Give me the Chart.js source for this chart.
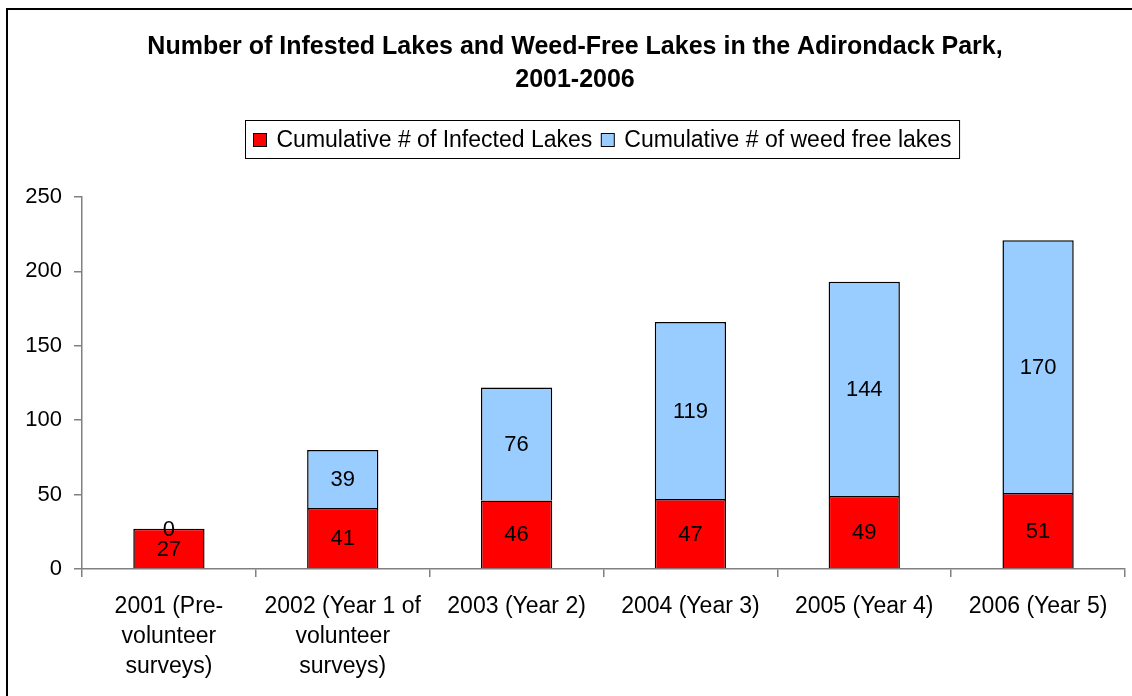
<!DOCTYPE html>
<html>
<head>
<meta charset="utf-8">
<script src="https://cdn.jsdelivr.net/npm/chart.js@4.4.1/dist/chart.umd.min.js"></script>
<style>
  html, body { margin: 0; padding: 0; background: #fff; }
  #wrap { width: 1132px; height: 696px; }
</style>
</head>
<body>
<div id="wrap"><canvas id="lakesChart" width="1132" height="696"></canvas></div>
<script>
// data
const categories = [
    ['2001 (Pre-', 'volunteer', 'surveys)'],
    ['2002 (Year 1 of', 'volunteer', 'surveys)'],
    '2003 (Year 2)',
    '2004 (Year 3)',
    '2005 (Year 4)',
    '2006 (Year 5)'
];
const infectedLakes = [27, 41, 46, 47, 49, 51];
const weedFreeLakes = [0, 39, 76, 119, 144, 170];
const yTicks = [0, 50, 100, 150, 200, 250];

const FONT = '"Liberation Sans", Arial, sans-serif';

// frame round the whole chart (right and bottom edges are off the page)
const framePlugin = {
    id: 'frame',
    beforeDraw(chart) {
        const c = chart.ctx;
        c.save();
        c.fillStyle = '#fff';
        c.fillRect(0, 0, chart.width, chart.height);
        c.strokeStyle = '#000';
        c.lineWidth = 2;
        c.strokeRect(7, 9, 1300, 900);
        c.restore();
    }
};

// boxed legend under the title
const boxLegendPlugin = {
    id: 'boxLegend',
    afterDraw(chart) {
        const c = chart.ctx;
        c.save();
        c.font = '23px ' + FONT;
        c.textBaseline = 'middle';
        const items = chart.data.datasets.map(ds => ({
            text: ds.label,
            color: ds.backgroundColor,
            w: c.measureText(ds.label).width
        }));
        const box = 13, gap = 10, itemGap = 9, pad = 8;
        let total = pad * 2;
        items.forEach((it, i) => { total += box + gap + it.w + (i > 0 ? itemGap : 0); });
        const cx = 602, cy = 140;
        let x = Math.round(cx - total / 2) + 0.5;
        c.strokeStyle = '#000';
        c.lineWidth = 1;
        c.strokeRect(x, 120.5, total, 38);
        x += pad;
        items.forEach((it, i) => {
            if (i > 0) x += itemGap;
            c.fillStyle = it.color;
            c.fillRect(x, cy - box / 2, box, box);
            c.strokeRect(x, cy - box / 2, box, box);
            x += box + gap;
            c.fillStyle = '#000';
            c.textAlign = 'left';
            c.fillText(it.text, x, cy + 1);
            x += it.w;
        });
        c.restore();
    }
};

// values written in the middle of every segment
const segmentLabelsPlugin = {
    id: 'segmentLabels',
    afterDatasetsDraw(chart) {
        const c = chart.ctx;
        c.save();
        c.font = '22px ' + FONT;
        c.fillStyle = '#000';
        c.textAlign = 'center';
        c.textBaseline = 'middle';
        chart.data.datasets.forEach((ds, di) => {
            const meta = chart.getDatasetMeta(di);
            meta.data.forEach((bar, i) => {
                const mid = (bar.y + bar.base) / 2;
                c.fillText(String(ds.data[i]), bar.x, mid + 1);
            });
        });
        c.restore();
    }
};

const ctx = document.getElementById('lakesChart').getContext('2d');
const lakesChart = new Chart(ctx, {
    type: 'bar',
    data: {
        labels: categories,
        datasets: [{
            label: 'Cumulative # of Infected Lakes',
            data: infectedLakes,
            backgroundColor: '#FF0000',
            borderColor: '#000',
            borderWidth: 1.5,
            barPercentage: 0.41,
            categoryPercentage: 1
        }, {
            label: 'Cumulative # of weed free lakes',
            data: weedFreeLakes,
            backgroundColor: '#99CCFF',
            borderColor: '#000',
            borderWidth: 1.5,
            barPercentage: 0.41,
            categoryPercentage: 1
        }]
    },
    options: {
        responsive: false,
        animation: false,
        layout: { padding: { top: 0, left: 25, right: 7, bottom: 0 } },
        plugins: {
            legend: { display: false },
            tooltip: { enabled: false },
            title: {
                display: true,
                text: ['Number of Infested Lakes and Weed-Free Lakes in the Adirondack Park,', '2001-2006'],
                color: '#000',
                font: { family: FONT, size: 25, weight: 'bold', lineHeight: 1.32 },
                padding: { top: 31, bottom: 100 }
            }
        },
        scales: {
            x: {
                stacked: true,
                grid: { drawOnChartArea: false, drawTicks: true, tickLength: 8, color: '#808080', lineWidth: 1.5, offset: true },
                border: { color: '#808080', width: 1.5 },
                ticks: {
                    color: '#000',
                    font: { family: FONT, size: 23, lineHeight: 1.3 },
                    padding: 15,
                    maxRotation: 0,
                    autoSkip: false
                },
                afterFit(scale) { scale.height = 127; }
            },
            y: {
                stacked: true,
                min: 0,
                max: 250,
                afterBuildTicks(scale) { scale.ticks = yTicks.map(v => ({ value: v })); },
                grid: { drawOnChartArea: false, drawTicks: true, tickLength: 8, color: '#808080', lineWidth: 1.5 },
                border: { color: '#808080', width: 1.5 },
                ticks: {
                    color: '#000',
                    font: { family: FONT, size: 22 },
                    padding: 12
                },
                afterFit(scale) { scale.width = 57; }
            }
        }
    },
    plugins: [framePlugin, boxLegendPlugin, segmentLabelsPlugin]
});
</script>
</body>
</html>
